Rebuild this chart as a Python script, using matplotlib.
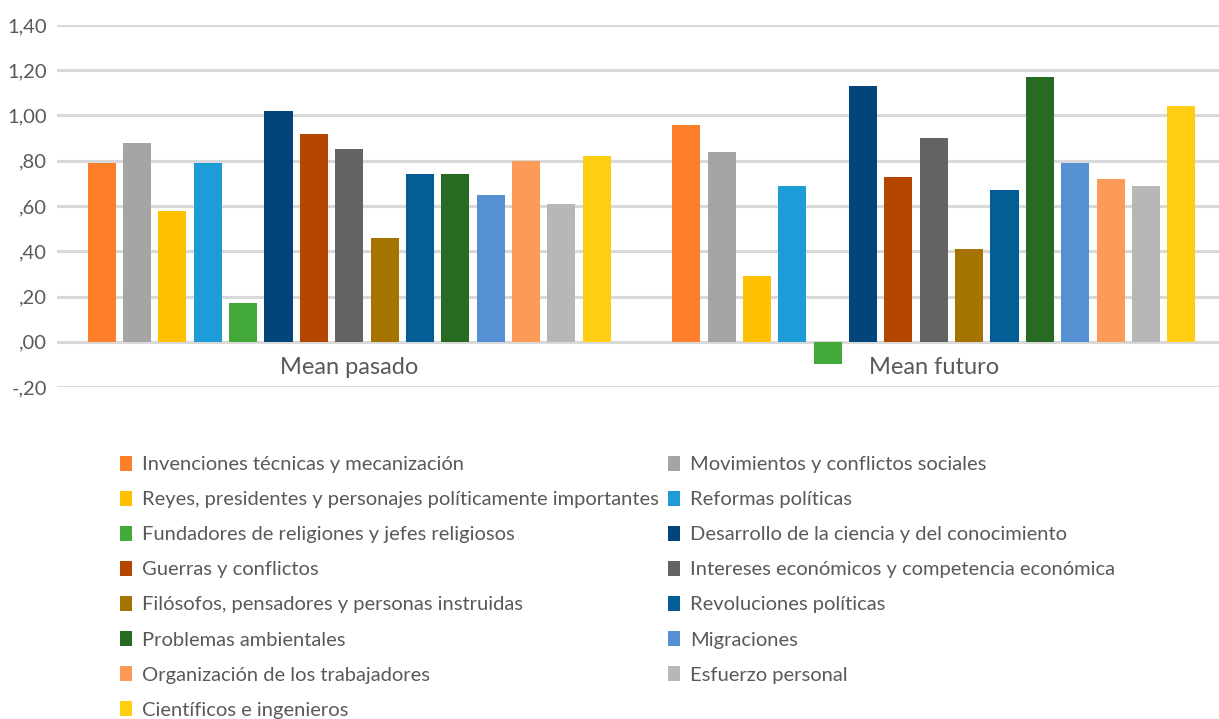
import numpy as np
import matplotlib.pyplot as plt
from matplotlib.ticker import FuncFormatter

plt.rcParams['font.family'] = ['Lato', 'DejaVu Sans']

groups = ["Mean pasado", "Mean futuro"]
series = [
    "Invenciones técnicas y mecanización",
    "Movimientos y conflictos sociales",
    "Reyes, presidentes y personajes políticamente importantes",
    "Reformas políticas",
    "Fundadores de religiones y jefes religiosos",
    "Desarrollo de la ciencia y del conocimiento",
    "Guerras y conflictos",
    "Intereses económicos y competencia económica",
    "Filósofos, pensadores y personas instruidas",
    "Revoluciones políticas",
    "Problemas ambientales",
    "Migraciones",
    "Organización de los trabajadores",
    "Esfuerzo personal",
    "Científicos e ingenieros",
]
pasado = [0.79, 0.88, 0.58, 0.79, 0.17, 1.02, 0.92, 0.85, 0.46, 0.74, 0.74, 0.65, 0.80, 0.61, 0.82]
futuro = [0.96, 0.84, 0.29, 0.69, -0.10, 1.13, 0.73, 0.90, 0.41, 0.67, 1.17, 0.79, 0.72, 0.69, 1.04]
colors = ["#FE7F2A", "#A5A5A5", "#FFC000", "#1E9CD7", "#43AA3A", "#03447A", "#B54600",
          "#636363", "#A57300", "#025E94", "#276A22", "#5590D3", "#FE9A57", "#B7B7B7", "#FFCD11"]

W, H = 1219, 719
fig = plt.figure(figsize=(W / 100, H / 100), dpi=100)
ax = fig.add_axes([57 / W, 1 - 387 / H, 1169 / W, 362 / H])

n = len(series)
slot = 0.0605
bw = 0.048
x = np.arange(len(groups))
handles = []
for i, name in enumerate(series):
    off = slot * (i - (n - 1) / 2)
    b = ax.bar(x + off, [pasado[i], futuro[i]], bw, color=colors[i], label=name, zorder=3)
    handles.append(b)

ax.set_xlim(-0.5, 1.5)
ax.set_ylim(-0.2, 1.4)
ax.set_yticks(np.arange(-0.2, 1.41, 0.2))


def fmt(v, pos):
    s = "%.2f" % v
    s = s.replace("0.", ".", 1) if abs(v) < 1 else s
    return s.replace(".", ",")


ax.yaxis.set_major_formatter(FuncFormatter(fmt))
ax.tick_params(axis='y', length=0, pad=7, labelsize=14.5, labelcolor="#595959")
ax.set_xticks([])
ax.grid(axis='y', color="#D9D9D9", linewidth=2.2, zorder=0)
for s in ax.spines.values():
    s.set_visible(False)

for i, g in enumerate(groups):
    ax.text(x[i], -0.141, g, ha='center', va='baseline', fontsize=17, color="#595959")

leg_kw = dict(loc='upper left', frameon=False, fontsize=14.5, borderpad=0, borderaxespad=0,
              handlelength=0.6, handleheight=0.75, handletextpad=0.5, labelspacing=0.875)
col1 = list(range(0, n, 2))
col2 = list(range(1, n, 2))
leg1 = fig.legend([handles[i] for i in col1], [series[i] for i in col1],
                  bbox_to_anchor=(120 / W, 1 - 456 / H), **leg_kw)
leg2 = fig.legend([handles[i] for i in col2], [series[i] for i in col2],
                  bbox_to_anchor=(668 / W, 1 - 456 / H), **leg_kw)
for leg in (leg1, leg2):
    for t in leg.get_texts():
        t.set_color("#595959")

fig.savefig("out.png", dpi=100)
